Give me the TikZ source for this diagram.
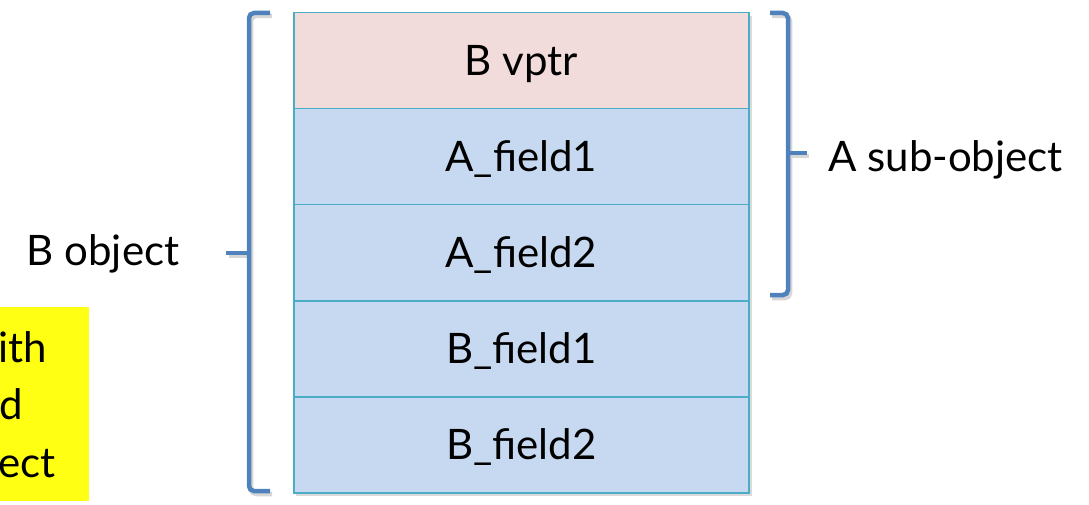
\documentclass[tikz,border=0pt]{standalone}
\usepackage{fontspec}
\setmainfont{Lato}
\definecolor{pinkfill}{RGB}{242,220,219}
\definecolor{bluefill}{RGB}{198,217,240}
\definecolor{cellline}{RGB}{75,172,198}
\definecolor{bracecol}{RGB}{79,129,189}
\definecolor{hl}{RGB}{255,255,20}
\begin{document}
\begin{tikzpicture}[x=1pt,y=-1pt,
  font=\fontsize{42}{48}\selectfont,
  cell/.style={draw=cellline, line width=1.5pt, minimum width=455pt, minimum height=96pt, inner sep=0pt, anchor=north west, text height=30pt, text depth=0pt},
  bracepath/.style={draw=bracecol, line width=4.5pt, rounded corners=5pt, line cap=butt},
  braceshadow/.style={draw=black!16, line width=4.5pt, rounded corners=5pt},
  lbl/.style={inner sep=0pt, anchor=base west}]
\useasboundingbox (0,0) rectangle (1089,505);
% yellow box with clipped text
\fill[hl] (0,307) rectangle (89,501);
\begin{scope}
  \clip (0,307) rectangle (89,501);
  \node[lbl] (y1) at (-2,362) {ith};
  \node[lbl] (y2) at (-1,419) {d};
  \node[lbl] (y3) at (-2,477) {ect};
\end{scope}
% table shadow
\fill[black!14] (296,16) rectangle (752,496);
\node[cell, fill=pinkfill] (c1) at (293,12) {B vptr};
\node[cell, fill=bluefill] (c2) at (293,108) {A\_field1};
\node[cell, fill=bluefill] (c3) at (293,204) {A\_field2};
\node[cell, fill=bluefill] (c4) at (293,300) {B\_field1};
\node[cell, fill=bluefill] (c5) at (293,396) {B\_field2};
% left brace
\draw[braceshadow] (272,16) -- (251,16) -- (251,494) -- (272,494);
\draw[braceshadow] (251,256) -- (229,256);
\draw[bracepath] (270,13) -- (249,13) -- (249,491) -- (270,491);
\draw[bracepath] (249,253) -- (226,253);
% right brace
\draw[braceshadow] (772,16) -- (790,16) -- (790,298) -- (772,298);
\draw[braceshadow] (790,156) -- (809,156);
\draw[bracepath] (770,13) -- (788,13) -- (788,295) -- (770,295);
\draw[bracepath] (788,153) -- (807,153);
% labels
\node[lbl, anchor=base] (bobj) at (103,265) {B object};
\node[lbl] (asub) at (828,172) {A sub-object};
\end{tikzpicture}
\end{document}
